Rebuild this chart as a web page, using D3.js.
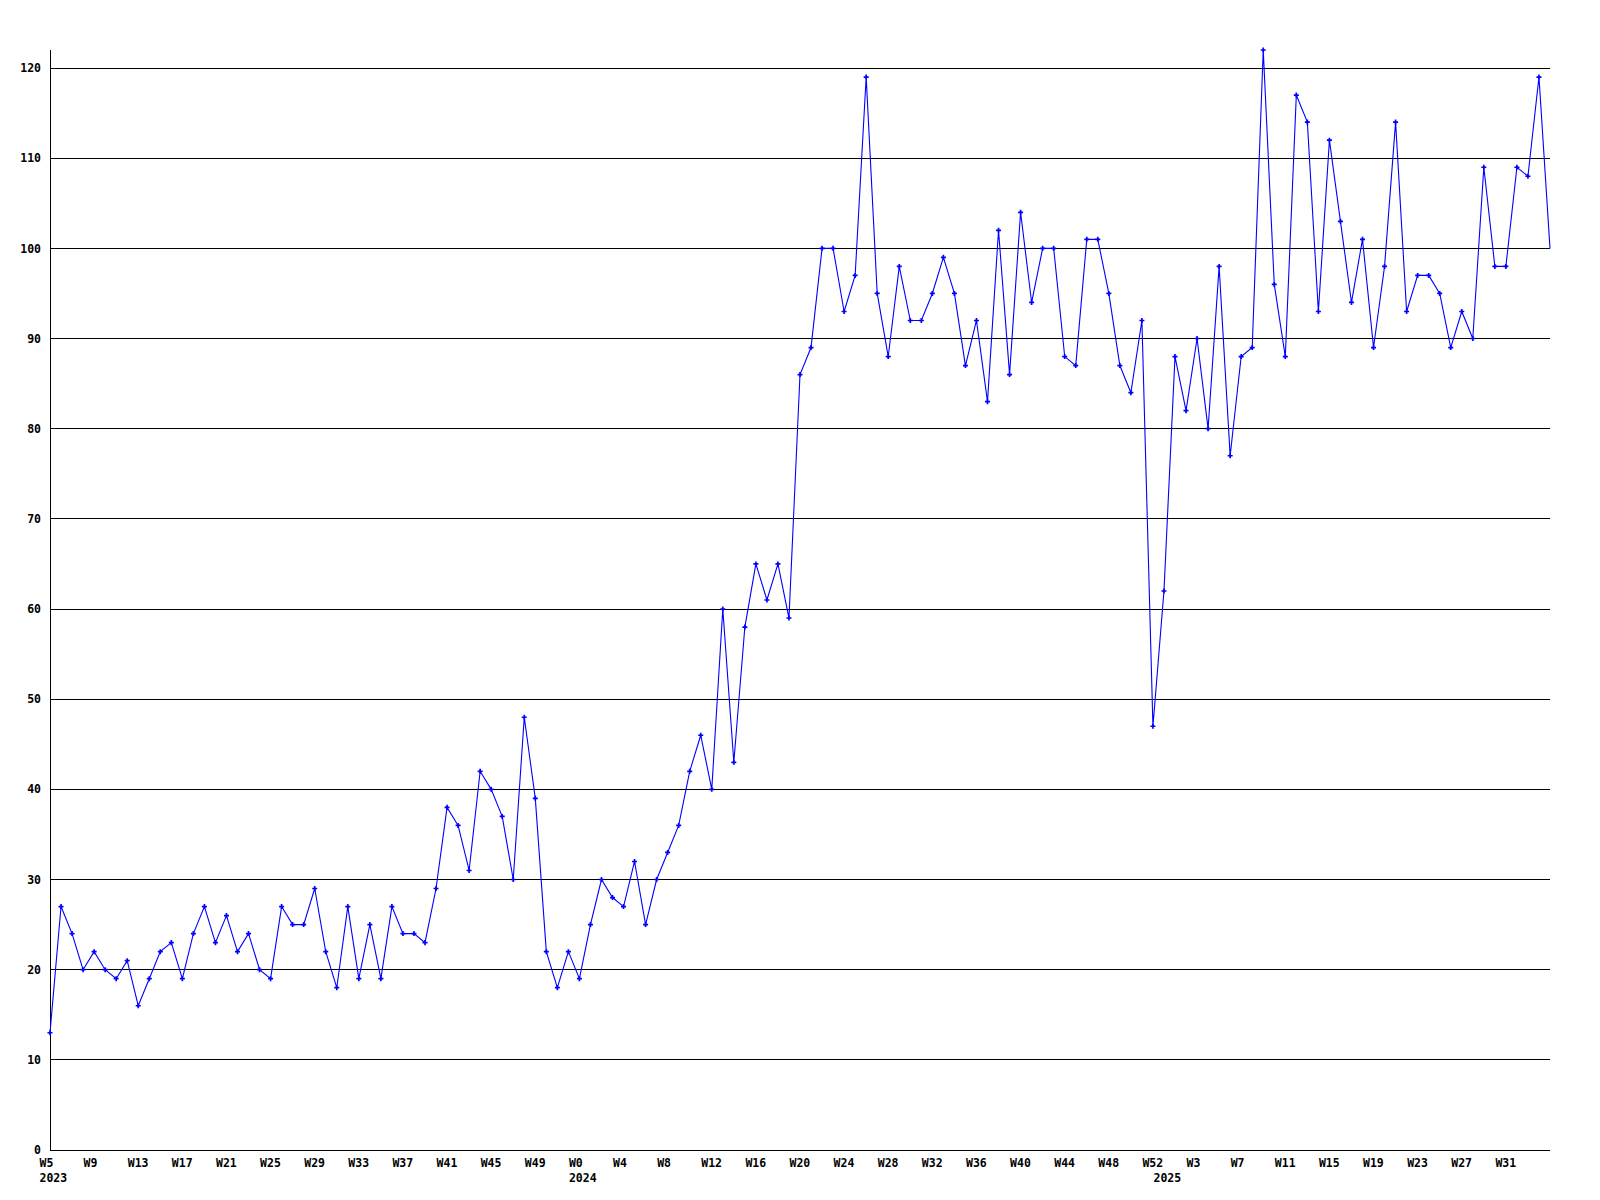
<!DOCTYPE html>
<html>
<head>
<meta charset="utf-8">
<script src="https://cdn.jsdelivr.net/npm/d3@7"></script>
<style>
  body { margin: 0; background: #ffffff; }
  svg { display: block; }
</style>
</head>
<body>
<svg id="chart" width="1600" height="1200"></svg>
<script>
// ---------- data ----------
const years = [2023, 2024, 2025];
const weeks2023 = d3.range(5, 53).map(w => "W" + w);   // W5 .. W52
const weeks2024 = d3.range(0, 53).map(w => "W" + w);   // W0 .. W52
const weeks2025 = d3.range(0, 36).map(w => "W" + w);   // W0 .. W35

const values = [
  13, 27, 24, 20, 22, 20, 19, 21, 16, 19,
  22, 23, 19, 24, 27, 23, 26, 22, 24, 20,
  19, 27, 25, 25, 29, 22, 18, 27, 19, 25,
  19, 27, 24, 24, 23, 29, 38, 36, 31, 42,
  40, 37, 30, 48, 39, 22, 18, 22, 19, 25,
  30, 28, 27, 32, 25, 30, 33, 36, 42, 46,
  40, 60, 43, 58, 65, 61, 65, 59, 86, 89,
  100, 100, 93, 97, 119, 95, 88, 98, 92, 92,
  95, 99, 95, 87, 92, 83, 102, 86, 104, 94,
  100, 100, 88, 87, 101, 101, 95, 87, 84, 92,
  47, 62, 88, 82, 90, 80, 98, 77, 88, 89,
  122, 96, 88, 117, 114, 93, 112, 103, 94, 101,
  89, 98, 114, 93, 97, 97, 95, 89, 93, 90,
  109, 98, 98, 109, 108, 119, 100
];

const yTicks = [0, 10, 20, 30, 40, 50, 60, 70, 80, 90, 100, 110, 120];
const xTicks2023 = ["W5", "W9", "W13", "W17", "W21", "W25", "W29", "W33", "W37", "W41", "W45", "W49"];
const xTicks2024 = ["W0", "W4", "W8", "W12", "W16", "W20", "W24", "W28", "W32", "W36", "W40", "W44", "W48", "W52"];
const xTicks2025 = ["W3", "W7", "W11", "W15", "W19", "W23", "W27", "W31"];

// ---------- derived tables ----------
const categories = [
  ...weeks2023.map(w => ({ year: 2023, week: w })),
  ...weeks2024.map(w => ({ year: 2024, week: w })),
  ...weeks2025.map(w => ({ year: 2025, week: w }))
];
const points = values.map((v, i) => ({ i, v, cat: categories[i] }));
const tickDefs = [
  ...xTicks2023.map(w => ({ year: 2023, week: w })),
  ...xTicks2024.map(w => ({ year: 2024, week: w })),
  ...xTicks2025.map(w => ({ year: 2025, week: w }))
].map(t => ({ ...t, i: categories.findIndex(c => c.year === t.year && c.week === t.week) }));
const yearStarts = years.map(yr => ({ year: yr, i: categories.findIndex(c => c.year === yr) }));

// ---------- scales ----------
const W = 1600, H = 1200;
const plot = { left: 50, right: 1550, top: 50, bottom: 1150 };
const x = d3.scaleLinear().domain([0, categories.length - 1]).range([plot.left, plot.right]);
const y = d3.scaleLinear().domain([0, 122]).range([plot.bottom, plot.top]);
const snap = v => Math.floor(v) + 0.5;

const svg = d3.select("#chart");
svg.append("rect").attr("width", W).attr("height", H).attr("fill", "#ffffff");

const font = "'DejaVu Sans Mono', 'Liberation Mono', monospace";
const labelShift = -10.5;   // labels start slightly left of their week

// horizontal grid lines
svg.append("g")
  .selectAll("line")
  .data(yTicks)
  .join("line")
  .attr("x1", plot.left)
  .attr("x2", plot.right)
  .attr("y1", d => snap(y(d)))
  .attr("y2", d => snap(y(d)))
  .attr("stroke", "#000")
  .attr("stroke-width", 1)
  .attr("shape-rendering", "crispEdges");

// y axis line
svg.append("line")
  .attr("x1", snap(plot.left)).attr("x2", snap(plot.left))
  .attr("y1", plot.top).attr("y2", snap(y(0)))
  .attr("stroke", "#000")
  .attr("stroke-width", 1)
  .attr("shape-rendering", "crispEdges");

// y tick labels
svg.append("g")
  .selectAll("text")
  .data(yTicks)
  .join("text")
  .attr("x", plot.left - 9)
  .attr("y", d => y(d))
  .attr("dy", "0.36em")
  .attr("text-anchor", "end")
  .attr("font-family", font)
  .attr("font-weight", "bold")
  .attr("font-size", "11.5px")
  .attr("fill", "#000")
  .text(d => d);

// x tick labels (weeks)
svg.append("g")
  .selectAll("text")
  .data(tickDefs)
  .join("text")
  .attr("x", d => x(d.i) + labelShift)
  .attr("y", plot.bottom + 16.8)
  .attr("text-anchor", "start")
  .attr("font-family", font)
  .attr("font-weight", "bold")
  .attr("font-size", "11.5px")
  .attr("fill", "#000")
  .text(d => d.week);

// year labels
svg.append("g")
  .selectAll("text")
  .data(yearStarts)
  .join("text")
  .attr("x", d => x(d.i) + labelShift)
  .attr("y", plot.bottom + 32)
  .attr("text-anchor", "start")
  .attr("font-family", font)
  .attr("font-weight", "bold")
  .attr("font-size", "11.5px")
  .attr("fill", "#000")
  .text(d => d.year);

// data line
const line = d3.line().x(d => x(d.i)).y(d => y(d.v));
svg.append("path")
  .datum(points)
  .attr("d", line)
  .attr("fill", "none")
  .attr("stroke", "#0000ff")
  .attr("stroke-width", 1.1)
  .attr("stroke-linejoin", "miter");

// point markers (the final, still-open week has none)
const sym = d3.symbol().type(d3.symbolCross).size(14);
svg.append("g")
  .selectAll("path")
  .data(points.slice(0, points.length - 1))
  .join("path")
  .attr("transform", d => `translate(${x(d.i)},${y(d.v)})`)
  .attr("d", sym)
  .attr("fill", "#0000ff");
</script>
</body>
</html>
